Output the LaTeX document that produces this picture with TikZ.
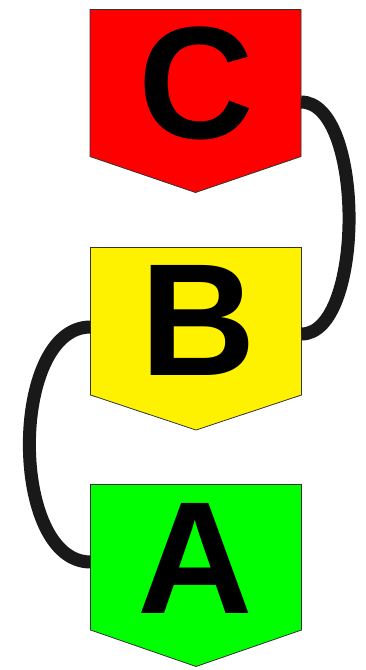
\documentclass[tikz,border=0pt]{standalone}
\usepackage{fontspec}
\setmainfont{Liberation Sans}
\begin{document}
\begin{tikzpicture}[x=1pt,y=-1pt,
  tag/.style={draw=black!80!white, line width=0.8pt, line join=miter},
  letter/.style={font=\bfseries\fontsize{160}{160}\selectfont, inner sep=0pt, anchor=center},
  link/.style={draw=black!90, line width=13pt, line cap=butt}]
\useasboundingbox (0,0) rectangle (366,670);
% C
\fill[red] (90,9.5) -- (301,9.5) -- (301,156.5) -- (195.5,192.5) -- (90,156.5) -- cycle;
\draw[tag] (90,9.5) -- (301,9.5) -- (301,156.5) -- (195.5,192.5) -- (90,156.5) -- cycle;
\node[letter] (c) at (196,83.5) {C};
% B
\fill[yellow] (90.5,247.5) -- (301.5,247.5) -- (301.5,395) -- (196,430) -- (90.5,395) -- cycle;
\draw[tag] (90.5,247.5) -- (301.5,247.5) -- (301.5,395) -- (196,430) -- (90.5,395) -- cycle;
\node[letter] (b) at (198.5,320.5) {B};
% A
\fill[green] (90.5,484.5) -- (301.5,484.5) -- (301.5,630) -- (196,666.5) -- (90.5,630) -- cycle;
\draw[tag] (90.5,484.5) -- (301.5,484.5) -- (301.5,630) -- (196,666.5) -- (90.5,630) -- cycle;
\node[letter] (a) at (195.5,558) {A};
% connector ends
\coordinate (cr) at (301,102);
\coordinate (br) at (301.5,334);
\coordinate (bl) at (90.5,327);
\coordinate (al) at (90.5,562);
\draw[link] (cr) .. controls (365,102) and (365,334) .. (br);
\draw[link] (bl) .. controls (9,327) and (9,562) .. (al);
\end{tikzpicture}
\end{document}
